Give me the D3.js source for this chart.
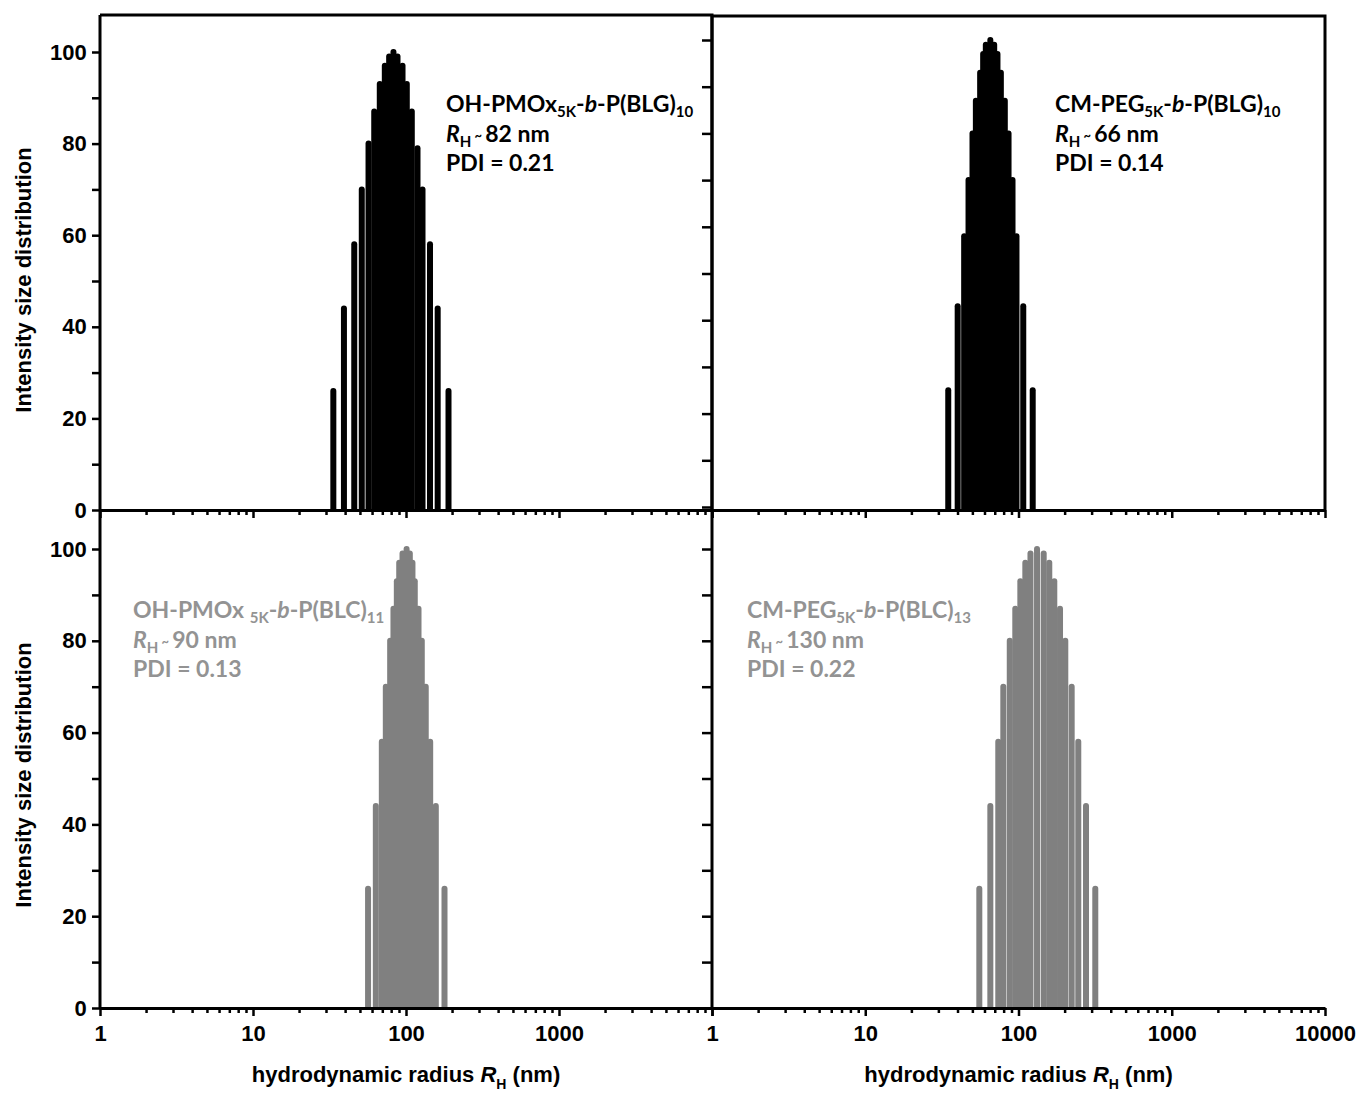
<!DOCTYPE html>
<meta charset="utf-8">
<body style="margin:0;background-color:white;">
<svg width="1359" height="1093"></svg>
<script src="https://cdn.jsdelivr.net/npm/d3@7"></script>
<script>

// radius (nm) and intensity
var radiusTL    = [33.5, 39.3, 45.9, 51.4, 56.9, 62.0, 67.4, 72.7, 77.6, 82.8, 88.0, 94.9, 101.2, 109.1, 118.9, 128.2, 143.5, 161.1, 189.6];
var intensityTL = [26, 44, 58, 70, 80, 87, 93, 97, 99, 100, 99, 97, 93, 87, 79, 70, 58, 44, 26];

var radiusTR    = [34.8, 40.1, 44.2, 47.2, 50.1, 52.7, 56.2, 58.8, 61.2, 65.5, 69.4, 72.9, 76.7, 81.4, 86.1, 91.4, 97.0, 107.4, 123.8];
var intensityTR = [25, 43, 58, 70, 80, 87, 93, 97, 99, 100, 99, 97, 93, 87, 80, 70, 58, 43, 25];

var radiusBL    = [56.5, 63.5, 69.5, 73.8, 78.8, 82.8, 87.1, 90.3, 94.9, 100.9, 105.9, 110.2, 114.1, 120.7, 126.8, 134.6, 143.9, 156.6, 178.5];
var intensityBL = [26, 44, 58, 70, 80, 87, 93, 97, 99, 100, 99, 97, 93, 87, 80, 70, 58, 44, 26];

var radiusBR    = [55.5, 65.5, 73.8, 79.6, 87.7, 95.3, 102.8, 110.8, 119.7, 132.1, 146.0, 158.8, 171.2, 186.6, 202.0, 222.3, 245.5, 275.7, 317.0];
var intensityBR = [26, 44, 58, 70, 80, 87, 93, 97, 99, 100, 99, 97, 93, 87, 80, 70, 58, 44, 26];

var majorX = [1, 10, 100, 1000, 10000];
var yTicks = [0, 10, 20, 30, 40, 50, 60, 70, 80, 90, 100];
var labelsTL = ["OH-PMOx", "5K", "P(BLG)", "10", "82 nm", "PDI = 0.21"];
var labelsTR = ["CM-PEG", "5K", "P(BLG)", "10", "66 nm", "PDI = 0.14"];
var labelsBL = ["OH-PMOx ", "5K", "P(BLC)", "11", "90 nm", "PDI = 0.13"];
var labelsBR = ["CM-PEG", "5K", "P(BLC)", "13", "130 nm", "PDI = 0.22"];

var minorX = [];
for (var e = 0; e < 4; e++) {
  for (var m = 2; m < 10; m++) minorX.push(m * Math.pow(10, e));
}

var svg = d3.select("svg");
var tickFont = "'Liberation Sans', Arial, sans-serif";
var noteFont = "Lato, 'Open Sans', sans-serif";

var xL = d3.scaleLog().domain([1, 10000]).range([100, 712]);
var xR = d3.scaleLog().domain([1, 10000]).range([712, 1325]);
var yTopL = d3.scaleLinear().domain([0, 100]).range([510, 52]);
var yTopR = d3.scaleLinear().domain([0, 100]).range([507, 40]);
var yBot = d3.scaleLinear().domain([0, 100]).range([1008, 549]);

var panels = [
  {id: "tl", x: xL, y: yTopL, axisY: 510, top: 15, r: radiusTL, v: intensityTL, color: "#000", text: labelsTL, tx: 446, ty: 112, xLabels: false, yLabels: true, box: true},
  {id: "tr", x: xR, y: yTopR, axisY: 510, top: 16, r: radiusTR, v: intensityTR, color: "#000", text: labelsTR, tx: 1055, ty: 112, xLabels: false, yLabels: false, box: true},
  {id: "bl", x: xL, y: yBot, axisY: 1008, top: 510, r: radiusBL, v: intensityBL, color: "#808080", textColor: "#939393", text: labelsBL, tx: 133, ty: 618, xLabels: [1, 10, 100, 1000], yLabels: true, box: false},
  {id: "br", x: xR, y: yBot, axisY: 1008, top: 510, r: radiusBR, v: intensityBR, color: "#808080", textColor: "#939393", text: labelsBR, tx: 747, ty: 618, xLabels: majorX, yLabels: false, box: false}
];

panels.forEach(drawPanel);

function drawPanel(p) {
  var g = svg.append("g");
  var x0 = p.x.range()[0], x1 = p.x.range()[1];

  svg.append("clipPath").attr("id", "clip-" + p.id)
    .append("rect")
    .attr("x", x0).attr("y", p.top)
    .attr("width", x1 - x0).attr("height", p.axisY - p.top);

  var pts = p.r.map(function(r, i) { return {r: r, v: p.v[i]}; });

  g.append("g").attr("clip-path", "url(#clip-" + p.id + ")")
    .selectAll("line").data(pts).enter().append("line")
    .attr("x1", function(d) { return p.x(d.r); })
    .attr("x2", function(d) { return p.x(d.r); })
    .attr("y1", p.axisY + 4)
    .attr("y2", function(d) { return p.y(d.v); })
    .attr("stroke", p.color)
    .attr("stroke-width", 6)
    .attr("stroke-linecap", "round");

  if (p.box) {
    g.append("path")
      .attr("d", "M" + x0 + "," + p.top + "H" + x1 + "V" + p.axisY)
      .attr("fill", "none").attr("stroke", "#000").attr("stroke-width", 3);
  }

  // x axis, major and minor ticks
  var xa = g.append("g").attr("transform", "translate(0," + p.axisY + ")")
    .call(d3.axisBottom(p.x).tickValues(majorX).tickSize(8).tickSizeOuter(0)
      .tickFormat(function(d) { return p.xLabels && p.xLabels.indexOf(d) >= 0 ? d : ""; }));
  g.append("g").attr("transform", "translate(0," + p.axisY + ")")
    .call(d3.axisBottom(p.x).tickValues(minorX).tickSize(5).tickFormat(""))
    .select(".domain").remove();
  xa.selectAll("text").attr("dy", "1.0em");

  // y axis
  var ya = g.append("g").attr("transform", "translate(" + x0 + ",0)")
    .call(d3.axisLeft(p.y).tickValues(yTicks).tickSize(p.yLabels ? 8 : 10).tickSizeOuter(0)
      .tickFormat(function(d) { return p.yLabels && d % 20 == 0 ? d : ""; }));
  ya.select(".domain").attr("d", "M0," + p.top + "V" + p.axisY);
  ya.selectAll("text").attr("dx", "-0.1em");

  g.selectAll(".domain").attr("stroke-width", 3);
  g.selectAll(".tick line").attr("stroke-width", 2.5);
  g.selectAll(".tick text").attr("font-family", tickFont).attr("font-weight", "bold")
    .attr("font-size", 22).attr("fill", "#000");

  // annotation
  var c = p.textColor || "#000";
  var note = g.append("text").attr("x", p.tx).attr("y", p.ty)
    .attr("font-family", noteFont).attr("font-weight", "bold")
    .attr("font-size", 23).attr("fill", c);
  note.append("tspan").text(p.text[0]);
  note.append("tspan").attr("font-size", 15).attr("dy", 5).text(p.text[1]);
  note.append("tspan").attr("dy", -5).text("-");
  note.append("tspan").attr("font-style", "italic").text("b");
  note.append("tspan").text("-" + p.text[2]);
  note.append("tspan").attr("font-size", 15).attr("dy", 5).text(p.text[3]);

  var rh = g.append("text").attr("x", p.tx).attr("y", p.ty + 30)
    .attr("font-family", noteFont).attr("font-weight", "bold")
    .attr("font-size", 23).attr("fill", c);
  rh.append("tspan").attr("font-style", "italic").text("R");
  rh.append("tspan").attr("font-size", 15).attr("dy", 5).text("H");
  rh.append("tspan").attr("font-size", 13).attr("dy", -7).text(" ~ ");
  rh.append("tspan").attr("dy", 2).text(p.text[4]);

  g.append("text").attr("x", p.tx).attr("y", p.ty + 59)
    .attr("font-family", noteFont).attr("font-weight", "bold")
    .attr("font-size", 23).attr("fill", c)
    .text(p.text[5]);
}

// axis titles
[xL, xR].forEach(function(sc) {
  var cx = (sc.range()[0] + sc.range()[1]) / 2;
  var t = svg.append("text").attr("x", cx).attr("y", 1082)
    .attr("text-anchor", "middle")
    .attr("font-family", tickFont).attr("font-weight", "bold").attr("font-size", 22);
  t.append("tspan").text("hydrodynamic radius ");
  t.append("tspan").attr("font-style", "italic").text("R");
  t.append("tspan").attr("font-size", 14).attr("dy", 7).text("H");
  t.append("tspan").attr("dy", -7).text(" (nm)");
});

[280, 775].forEach(function(cy) {
  svg.append("text")
    .attr("transform", "translate(31," + cy + ")rotate(-90)")
    .attr("text-anchor", "middle")
    .attr("font-family", tickFont).attr("font-weight", "bold").attr("font-size", 22)
    .text("Intensity size distribution");
});

</script>
</body>
